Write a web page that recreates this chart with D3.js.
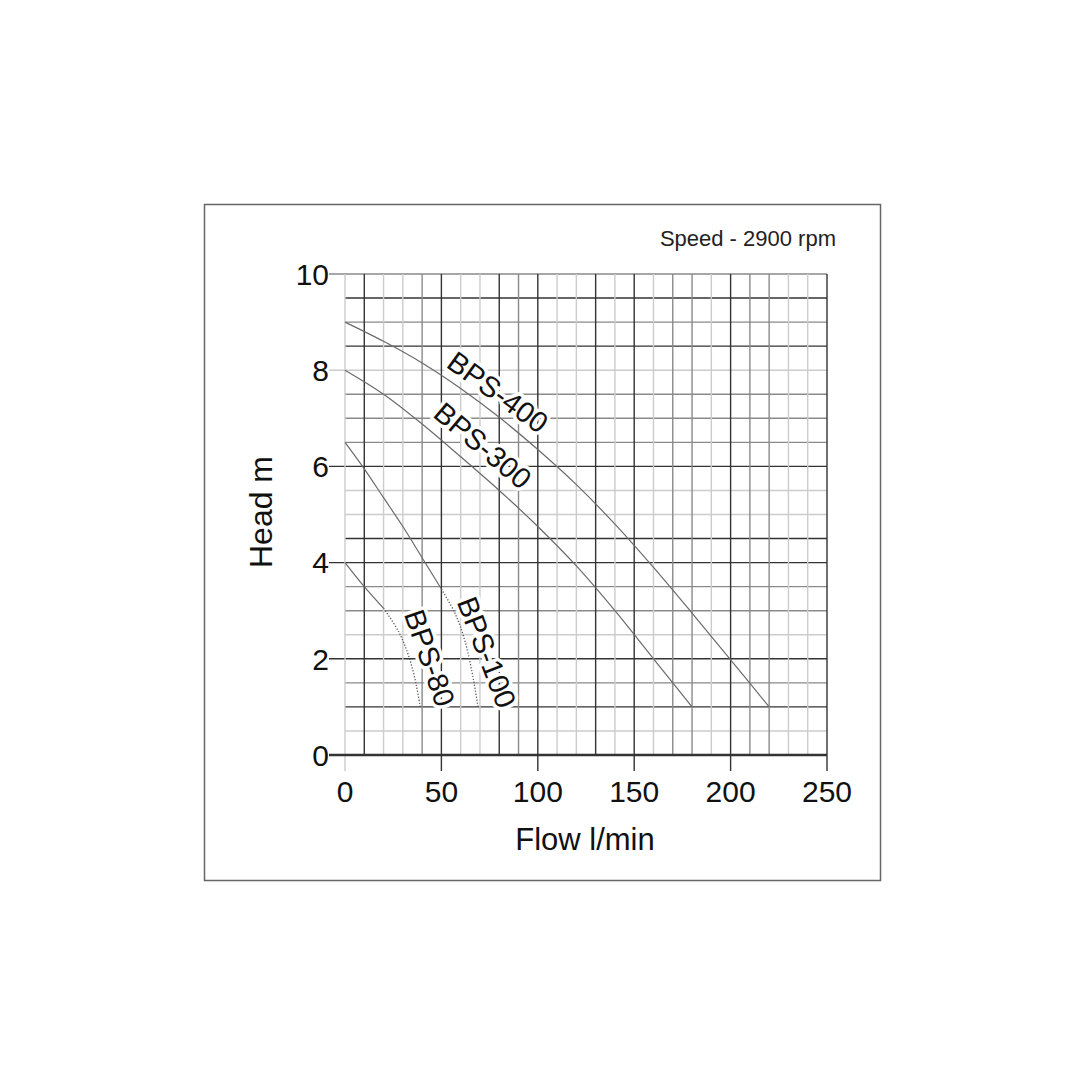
<!DOCTYPE html>
<html>
<head>
<meta charset="utf-8">
<script src="https://cdn.jsdelivr.net/npm/d3@7"></script>
<style>
  body { margin: 0; background: #fff; }
  text { font-family: "Liberation Sans", Arial, sans-serif; }
</style>
</head>
<body>
<script>
// pump curves (flow l/min, head m)
let bps400Flow = [0, 20, 40, 60, 80, 100, 120, 140, 160, 180, 200, 220];
let bps400Head = [9.0, 8.6, 8.15, 7.62, 7.02, 6.35, 5.62, 4.8, 3.9, 2.95, 1.98, 1.0];
let bps300Flow = [0, 20, 40, 60, 80, 100, 120, 140, 160, 180];
let bps300Head = [8.0, 7.5, 6.88, 6.2, 5.5, 4.75, 3.93, 3.0, 2.0, 1.0];
let bps100Flow = [0, 10, 20, 30, 40, 50, 57, 62, 66, 69];
let bps100Head = [6.5, 5.95, 5.35, 4.75, 4.1, 3.45, 2.95, 2.4, 1.7, 1.0];
let bps80Flow = [0, 10, 20, 28, 33.5, 37, 39];
let bps80Head = [4.0, 3.5, 3.05, 2.55, 2.0, 1.45, 1.0];
// flow where the curve turns dotted (null = solid all the way)
let dottedFrom = [null, null, 50, 20];
let seriesNames = ["BPS-400", "BPS-300", "BPS-100", "BPS-80"];

let xTicks = [0, 50, 100, 150, 200, 250];
let yTicks = [0, 2, 4, 6, 8, 10];
let xGrid = d3.range(0, 251, 10);
let yGrid = d3.range(0, 10.01, 0.5);

// the scan has uneven grid weights, copy them roughly
let darkX = [10, 50, 80, 100, 130, 150, 200, 250];
let midX = [40, 90, 170, 180, 210, 220];
let darkY = [9.5, 8.5, 6, 4.5, 4, 2, 1];
let midY = [10, 9, 7.5, 7, 6.5, 3.5, 3, 1.5];

let svg = d3.select("body").append("svg")
    .attr("width", 1080)
    .attr("height", 1080);

svg.append("rect")
    .attr("x", 204.5).attr("y", 204.5)
    .attr("width", 676).attr("height", 676)
    .attr("fill", "none")
    .attr("stroke", "#666")
    .attr("stroke-width", 1.5);

let xScale = d3.scaleLinear().domain([0, 250]).range([345, 827]);
let yScale = d3.scaleLinear().domain([0, 10]).range([755, 274]);

function weight(v, dark, mid) {
    if (dark.some(d => Math.abs(d - v) < 1e-6)) return "#333";
    if (mid.some(d => Math.abs(d - v) < 1e-6)) return "#8a8a8a";
    return "#cccccc";
}

let grid = svg.append("g");

grid.selectAll(".hline")
    .data(yGrid)
    .enter().append("line")
    .attr("x1", d => (d % 2 === 0 ? xScale(0) - 16 : xScale(0)))
    .attr("x2", xScale(250))
    .attr("y1", d => yScale(d))
    .attr("y2", d => yScale(d))
    .attr("stroke", d => weight(d, darkY, midY))
    .attr("stroke-width", 1.4);

grid.selectAll(".vline")
    .data(xGrid)
    .enter().append("line")
    .attr("x1", d => xScale(d))
    .attr("x2", d => xScale(d))
    .attr("y1", yScale(10))
    .attr("y2", d => (d % 50 === 0 ? yScale(0) + 16 : yScale(0)))
    .attr("stroke", d => weight(d, darkX, midX))
    .attr("stroke-width", 1.4);

// x axis base line, heavier
svg.append("line")
    .attr("x1", xScale(0) - 16).attr("x2", xScale(250))
    .attr("y1", yScale(0)).attr("y2", yScale(0))
    .attr("stroke", "#333")
    .attr("stroke-width", 2.5);

let curves = [
    d3.zip(bps400Flow, bps400Head),
    d3.zip(bps300Flow, bps300Head),
    d3.zip(bps100Flow, bps100Head),
    d3.zip(bps80Flow, bps80Head)
];

let line = d3.line()
    .x(d => xScale(d[0]))
    .y(d => yScale(d[1]))
    .curve(d3.curveCatmullRom);

curves.forEach(function(pts, i) {
    let cut = dottedFrom[i];
    let solid = cut === null ? pts : pts.filter(p => p[0] <= cut);
    svg.append("path")
        .attr("d", line(solid))
        .attr("fill", "none")
        .attr("stroke", "#6a6a6a")
        .attr("stroke-width", 1.2);
    if (cut !== null) {
        let dotted = pts.filter(p => p[0] >= cut);
        svg.append("path")
            .attr("d", line(dotted))
            .attr("fill", "none")
            .attr("stroke", "#555")
            .attr("stroke-width", 1.3)
            .attr("stroke-dasharray", "1.2,1.8");
    }
});

// curve labels (placed in data units)
let labelSpots = [
    {flow: 79.4, head: 7.55, angle: 36},
    {flow: 71.6, head: 6.44, angle: 40},
    {flow: 73.7, head: 2.14, angle: 69},
    {flow: 44.1, head: 2.02, angle: 71}
];

svg.selectAll(".curveLabel")
    .data(seriesNames)
    .enter().append("text")
    .attr("transform", (d, i) => "translate(" + xScale(labelSpots[i].flow) + "," + yScale(labelSpots[i].head) + ") rotate(" + labelSpots[i].angle + ")")
    .attr("text-anchor", "middle")
    .attr("dy", "0.36em")
    .style("font-size", "29px")
    .attr("fill", "#111")
    .attr("stroke", "#fff")
    .attr("stroke-width", 7)
    .attr("stroke-linejoin", "round")
    .style("paint-order", "stroke")
    .text(d => d);

// tick labels
svg.selectAll(".ytick")
    .data(yTicks)
    .enter().append("text")
    .attr("x", 329)
    .attr("y", d => yScale(d))
    .attr("dy", "0.36em")
    .attr("text-anchor", "end")
    .attr("fill", "#111")
    .style("font-size", "30px")
    .text(d => d);

svg.selectAll(".xtick")
    .data(xTicks)
    .enter().append("text")
    .attr("x", d => xScale(d))
    .attr("y", 802)
    .attr("text-anchor", "middle")
    .attr("fill", "#111")
    .style("font-size", "30px")
    .text(d => d);

svg.append("text")
    .attr("x", 585)
    .attr("y", 850)
    .attr("text-anchor", "middle")
    .attr("fill", "#111")
    .style("font-size", "31px")
    .text("Flow l/min");

svg.append("text")
    .attr("transform", "translate(272, 512) rotate(-90)")
    .attr("text-anchor", "middle")
    .attr("fill", "#111")
    .style("font-size", "32px")
    .text("Head m");

svg.append("text")
    .attr("x", 836)
    .attr("y", 246)
    .attr("text-anchor", "end")
    .attr("fill", "#222")
    .style("font-size", "22px")
    .text("Speed - 2900 rpm");
</script>
</body>
</html>
